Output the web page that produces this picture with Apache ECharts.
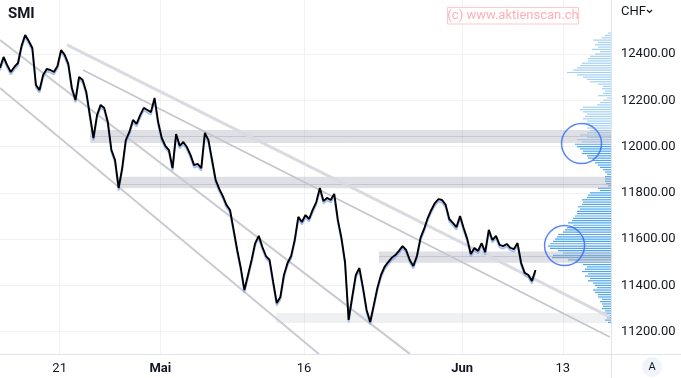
<!DOCTYPE html>
<html lang="de">
<head>
  <meta charset="UTF-8">
  <title>SMI</title>
  <script src="https://cdn.jsdelivr.net/npm/echarts@6/dist/echarts.min.js"></script>
  <style>
    html, body { margin: 0; padding: 0; background: #fff; }
    #main { width: 681px; height: 378px; }
  </style>
</head>
<body>
  <div id="main"></div>
  <script type="text/javascript">
    var myChart = echarts.init(document.getElementById('main'));

    // x axis: trading day index, 0 = 21 Apr 2022
    const dayTicks = [0, 7, 17, 28, 35];
    const dayLabels = ['21', 'Mai', '16', 'Jun', '13'];
    const priceTicks = [11200, 11400, 11600, 11800, 12000, 12200, 12400];

    // price bars, 4 per trading day
    const firstBarDay = -4.15;
    const barsPerDay = 4;
    const closes = [
      12340, 12387, 12352, 12322, 12344, 12361, 12435, 12482, 12456, 12426,
      12266, 12244, 12309, 12335, 12331, 12322, 12348, 12417, 12396, 12357,
      12253, 12201, 12301, 12288, 12236, 12136, 12037, 12136, 12180, 12167,
      12106, 11985, 11942, 11821, 11907, 12028, 12063, 12115, 12098, 12136,
      12167, 12158, 12149, 12210, 12106, 12037, 12003, 11985, 11907, 12054,
      12003, 12020, 11998, 11964, 11920, 11925, 11907, 12059, 12028, 11942,
      11856, 11817, 11786, 11748, 11726, 11640, 11553, 11475, 11380, 11445,
      11510, 11583, 11614, 11566, 11527, 11510, 11415, 11324, 11350, 11445,
      11497, 11527, 11596, 11696, 11674, 11704, 11687, 11726, 11760, 11821,
      11765, 11778, 11769, 11795, 11683, 11605, 11501, 11251, 11350, 11445,
      11475, 11389, 11294, 11242, 11315, 11389, 11445, 11480, 11501, 11519,
      11531, 11549, 11570, 11553, 11510, 11484, 11527, 11605, 11644, 11691,
      11726, 11756, 11773, 11769, 11748, 11687, 11670, 11652, 11700, 11648,
      11601, 11536, 11562, 11549, 11583, 11544, 11640, 11596, 11614, 11575,
      11570, 11579, 11562, 11557, 11583, 11497, 11454, 11445, 11419, 11466.75
    ];
    const lastPrice = 11466.75;

    // volume profile, one row per 10 points from 12490 down
    const profileTop = 12490;
    const profileStep = 10;
    const profileVolumes = [
      3, 6, 9, 18, 13, 16, 13, 19, 11, 16,
      21, 23, 23, 29, 31, 34, 38, 44, 34, 28,
      24, 21, 13, 8, 9, 6, 8, 13, 4, 8,
      11, 14, 28, 31, 28, 24, 26, 28, 24, 28,
      21, 24, 21, 24, 31, 24, 34, 29, 36, 34,
      31, 28, 29, 24, 23, 18, 16, 13, 11, 8,
      6, 4, 6, 6, 6, 5, 3, 13, 11, 21,
      23, 24, 29, 28, 29, 33, 31, 34, 34, 36,
      38, 39, 43, 38, 44, 46, 48, 53, 54, 56,
      58, 61, 63, 61, 53, 48, 58, 59, 43, 36,
      28, 24, 26, 29, 23, 26, 21, 23, 18, 16,
      14, 18, 16, 13, 13, 9, 11, 9, 8, 9,
      6, 8, 6, 4, 6, 3
    ];
    const valueAreaHigh = 12010;

    // support / resistance zones: [start day, upper, lower]
    const zones = [
      [2.11, 12072, 12015],
      [4.06, 11869, 11820],
      [22.21, 11546, 11498],
      [15.04, 11281, 11238]
    ];
    const zoneMids = [[2.11, 12045], [4.06, 11838], [22.21, 11527]];

    // trend lines: [[day, price], [day, price]]
    const trendLines = [
      [[-4.15, 12460], [24.36, 11104]],
      [[-4.15, 12253], [18.03, 11104]],
      [[0.51, 12439], [38.27, 11264]],
      [[1.62, 12331], [38.27, 11177]]
    ];
    const trendStyles = [
      { color: '#c9cbd1', width: 2 },
      { color: '#c9cbd1', width: 2 },
      { color: '#d9dbe0', width: 3 },
      { color: '#c3c5cc', width: 1.5 }
    ];

    const circleMarks = [[36.30, 12013], [35.12, 11572]];

    const xMin = -4.15, xMax = 38.35;
    const yMin = 11103.6, yMax = 12633.3;

    const priceData = closes.map((v, i) => [firstBarDay + i / barsPerDay, v]);
    const profileData = profileVolumes.map((w, k) => [w, profileTop - k * profileStep]);

    const series = [];

    // volume profile on the right edge
    series.push({
      type: 'custom',
      xAxisIndex: 1,
      yAxisIndex: 0,
      z: 1,
      silent: true,
      data: profileData,
      renderItem: function (params, api) {
        const p0 = api.coord([0, api.value(1)]);
        const p1 = api.coord([api.value(0), api.value(1)]);
        return {
          type: 'rect',
          shape: { x: p1[0], y: p0[1] - 0.6, width: p0[0] - p1[0], height: 1.2 },
          style: { fill: api.value(1) > valueAreaHigh ? '#a3d1f4' : '#4ea6e9' }
        };
      }
    });

    // zones
    series.push({
      type: 'line',
      data: [],
      silent: true,
      markArea: {
        silent: true,
        z: 2,
        data: zones.map((zn, i) => [
          { coord: [zn[0], zn[1]], itemStyle: { color: i === 3 ? 'rgba(176,178,190,0.2)' : 'rgba(176,178,190,0.4)' } },
          { coord: [xMax, zn[2]] }
        ])
      },
      markLine: {
        silent: true,
        z: 2,
        symbol: ['none', 'none'],
        label: { show: false },
        lineStyle: { color: 'rgba(150,152,165,0.35)', width: 1, type: 'solid' },
        data: zoneMids.map(m => [{ coord: [m[0], m[1]] }, { coord: [xMax, m[1]] }])
      }
    });

    // trend lines
    trendLines.forEach((ln, i) => {
      series.push({
        type: 'line',
        data: ln,
        z: 3,
        silent: true,
        symbol: 'none',
        lineStyle: trendStyles[i]
      });
    });

    // price
    series.push({
      type: 'line',
      name: 'SMI',
      data: priceData,
      z: 5,
      symbol: 'none',
      lineStyle: {
        color: '#000',
        width: 1.9,
        shadowColor: 'rgba(130,165,240,0.7)',
        shadowOffsetY: 2.5,
        shadowBlur: 0
      },
      markLine: {
        silent: true,
        z: 10,
        symbol: ['none', 'none'],
        lineStyle: { opacity: 0 },
        label: {
          show: true,
          position: 'end',
          distance: 0,
          formatter: lastPrice.toFixed(2),
          color: '#fff',
          fontSize: 13,
          backgroundColor: '#2962ff',
          padding: [2, 6, 1, 9]
        },
        data: [{ yAxis: lastPrice }]
      }
    });

    // circles
    series.push({
      type: 'scatter',
      data: circleMarks,
      z: 6,
      silent: true,
      symbol: 'circle',
      symbolSize: 40,
      itemStyle: { color: 'rgba(0,0,0,0)', borderColor: '#2f66f5', borderWidth: 1.5 }
    });

    const option = {
      animation: false,
      textStyle: { fontFamily: 'Roboto, sans-serif' },
      grid: { left: 0, right: 70, top: 0, bottom: 24, containLabel: false },
      xAxis: [{
        type: 'value',
        min: xMin,
        max: xMax,
        axisLine: { show: false },
        axisTick: { show: false, customValues: dayTicks },
        splitLine: { show: true, lineStyle: { color: '#eff1f5', width: 1 } },
        axisLabel: {
          customValues: dayTicks,
          margin: 8,
          color: '#131722',
          fontSize: 13,
          formatter: function (v) {
            const i = dayTicks.indexOf(v);
            if (i < 0) return '';
            const t = dayLabels[i];
            return isNaN(+t) ? '{b|' + t + '}' : t;
          },
          rich: { b: { fontWeight: 'bold', fontSize: 13, color: '#131722' } }
        }
      }, {
        type: 'value',
        show: false,
        inverse: true,
        min: 0,
        max: 611
      }],
      yAxis: [{
        type: 'value',
        position: 'right',
        min: yMin,
        max: yMax,
        axisLine: { show: false },
        axisTick: { show: false, customValues: priceTicks },
        splitLine: { show: true, lineStyle: { color: '#eff1f5', width: 1 } },
        axisLabel: {
          customValues: priceTicks,
          margin: 10,
          color: '#131722',
          fontSize: 13,
          align: 'left',
          formatter: v => v.toFixed(2)
        }
      }],
      graphic: [
        { type: 'line', shape: { x1: 611.5, y1: 0, x2: 611.5, y2: 378 }, style: { stroke: '#e0e3eb', lineWidth: 1 }, z: 20 },
        { type: 'line', shape: { x1: 0, y1: 354.5, x2: 681, y2: 354.5 }, style: { stroke: '#e0e3eb', lineWidth: 1 }, z: 20 },
        { type: 'text', left: 8, top: 7, style: { text: 'SMI', font: 'bold 15px Roboto, sans-serif', fill: '#131722' }, z: 20 },
        { type: 'text', left: 621, top: 5, style: { text: 'CHF', font: '13px Roboto, sans-serif', fill: '#131722' }, z: 20 },
        { type: 'polyline', shape: { points: [[647, 10], [649.5, 12.5], [652, 10]] }, style: { stroke: '#131722', lineWidth: 1.2, fill: null }, z: 20 },
        { type: 'rect', shape: { x: 447.5, y: 7.5, width: 131, height: 16.5 }, style: { fill: 'rgba(255,255,255,0.7)', stroke: '#ffc9cd', lineWidth: 1 }, z: 20 },
        { type: 'text', x: 513, y: 16, style: { text: '(c) www.aktienscan.ch', font: '13px Roboto, sans-serif', fill: '#ffb0b6', align: 'center', verticalAlign: 'middle' }, z: 21 },
        { type: 'circle', shape: { cx: 652, cy: 367, r: 10 }, style: { fill: '#f0f3fa' }, z: 20 },
        { type: 'text', x: 652, y: 367, style: { text: 'A', font: '11px Roboto, sans-serif', fill: '#131722', align: 'center', verticalAlign: 'middle' }, z: 21 }
      ],
      series: series
    };

    myChart.setOption(option);
  </script>
</body>
</html>
